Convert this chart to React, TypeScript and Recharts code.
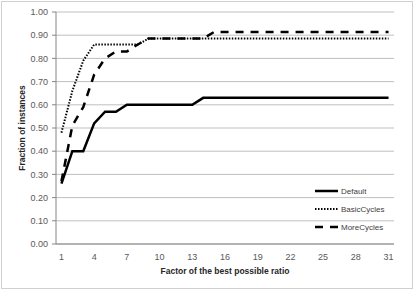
import React from 'react';
import { LineChart, Line, XAxis, YAxis, CartesianGrid, Legend } from 'recharts';

const factors = [1, 2, 3, 4, 5, 6, 7, 8, 9, 10, 11, 12, 13, 14, 15, 16, 17, 18, 19, 20, 21, 22, 23, 24, 25, 26, 27, 28, 29, 30, 31];
const defaultVals = [0.26, 0.40, 0.40, 0.52, 0.57, 0.57, 0.60, 0.60, 0.60, 0.60, 0.60, 0.60, 0.60, 0.63, 0.63, 0.63, 0.63, 0.63, 0.63, 0.63, 0.63, 0.63, 0.63, 0.63, 0.63, 0.63, 0.63, 0.63, 0.63, 0.63, 0.63];
const basicCycles = [0.48, 0.66, 0.79, 0.86, 0.86, 0.86, 0.86, 0.86, 0.886, 0.886, 0.886, 0.886, 0.886, 0.886, 0.886, 0.886, 0.886, 0.886, 0.886, 0.886, 0.886, 0.886, 0.886, 0.886, 0.886, 0.886, 0.886, 0.886, 0.886, 0.886, 0.886];
const moreCycles = [0.27, 0.51, 0.59, 0.73, 0.80, 0.83, 0.83, 0.86, 0.886, 0.886, 0.886, 0.886, 0.886, 0.886, 0.914, 0.914, 0.914, 0.914, 0.914, 0.914, 0.914, 0.914, 0.914, 0.914, 0.914, 0.914, 0.914, 0.914, 0.914, 0.914, 0.914];
const xTicks = [1, 4, 7, 10, 13, 16, 19, 22, 25, 28, 31];
const yTicks = [0, 0.1, 0.2, 0.3, 0.4, 0.5, 0.6, 0.7, 0.8, 0.9, 1.0];
const seriesNames = ['Default', 'BasicCycles', 'MoreCycles'];

const data = factors.map((f, i) => ({
  f,
  Default: defaultVals[i],
  BasicCycles: basicCycles[i],
  MoreCycles: moreCycles[i],
}));

const FONT = '"Liberation Sans", Arial, sans-serif';
const dashes = ['', '1.5 1.5', '8 7'];
const widths = [2.5, 2, 2.5];

const LegendContent = () => (
  <svg width={100} height={60} style={{ display: 'block' }}>
    {seriesNames.map((n, i) => (
      <g key={n}>
        <line x1={5} x2={28} y1={8 + i * 18} y2={8 + i * 18} stroke="#000" strokeWidth={widths[i]} strokeDasharray={dashes[i] || undefined} />
        <text x={31} y={11 + i * 18} fontSize={8} fontFamily={FONT} fill="#404040">{n}</text>
      </g>
    ))}
  </svg>
);

export default function App() {
  return (
    <div style={{ position: 'fixed', left: 0, top: 0, width: 415, height: 290, background: '#fff' }}>
      <div style={{ position: 'absolute', left: 1, top: 1, width: 410, height: 286, border: '1px solid #d0d0d0' }} />
      <div style={{ position: 'absolute', left: 0, top: 0 }}>
        <LineChart width={415} height={290} data={data} margin={{ top: 12, right: 21, bottom: 16, left: 0 }}>
          <CartesianGrid vertical={false} stroke="#bfbfbf" />
          <XAxis
            dataKey="f"
            type="number"
            domain={[0.5, 31.5]}
            ticks={xTicks}
            interval={0}
            tickLine={false}
            tickSize={6}
            tickMargin={4}
            height={30}
            axisLine={{ stroke: '#868686' }}
            tick={{ fontSize: 9, fill: '#595959', fontFamily: FONT }}
            label={() => (
              <text x={225} y={274} textAnchor="middle" fontSize={8.5} fontWeight="bold" fontFamily={FONT} fill="#262626">
                Factor of the best possible ratio
              </text>
            )}
          />
          <YAxis
            domain={[0, 1]}
            ticks={yTicks}
            interval={0}
            width={56}
            tickSize={4}
            tickMargin={4}
            tickFormatter={(v: number) => v.toFixed(2)}
            axisLine={{ stroke: '#868686' }}
            tickLine={{ stroke: '#868686' }}
            tick={{ fontSize: 9, fill: '#595959', fontFamily: FONT }}
            label={() => (
              <text x={25} y={128} transform="rotate(-90 25 128)" textAnchor="middle" fontSize={8.5} fontWeight="bold" fontFamily={FONT} fill="#262626">
                Fraction of instances
              </text>
            )}
          />
          <Legend
            layout="horizontal"
            verticalAlign="middle"
            align="center"
            content={() => <LegendContent />}
            wrapperStyle={{ left: 310, top: 183, width: 100, height: 60 }}
          />
          {seriesNames.map((n, i) => (
            <Line
              key={n}
              type="linear"
              dataKey={n}
              stroke="#000"
              strokeWidth={widths[i]}
              strokeDasharray={dashes[i] || undefined}
              dot={false}
              activeDot={false}
              isAnimationActive={false}
            />
          ))}
        </LineChart>
      </div>
    </div>
  );
}
